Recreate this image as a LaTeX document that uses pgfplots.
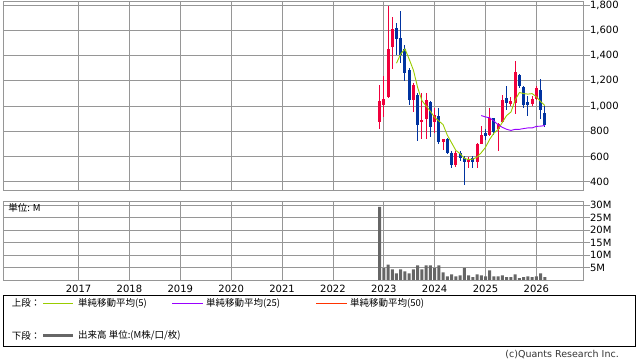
\documentclass[border=0pt]{standalone}
\usepackage{fontspec}
\setmainfont{DejaVu Sans}
\newfontfamily\jp{Noto Sans CJK JP}
\usepackage{pgfplots}
\usepackage{pgfplotstable}
\pgfplotsset{compat=1.18}

\definecolor{upc}{RGB}{240,0,60}
\definecolor{dnc}{RGB}{0,51,160}
\definecolor{ma5}{RGB}{153,204,0}
\definecolor{ma25}{RGB}{153,0,255}
\definecolor{ma50}{RGB}{255,51,0}
\definecolor{gridc}{RGB}{150,150,150}
\definecolor{volc}{RGB}{102,102,102}

% month index: Jan 2017 = 0
\pgfplotstableread{
m o h l c
71 872 1169 815 1043
72 1004 1240 914 1059
73 1069 1792 1060 1450
74 1464 1708 1293 1611
79 1046 1180 951 1169
81 872 1104 741 888
82 893 1104 741 1051
84 872 985 788 925
86 715 740 652 736
89 533 640 520 625
92 552 596 512 578
94 552 710 512 702
95 702 841 696 767
97 767 980 762 901
99 815 867 644 854
100 872 1090 867 1051
102 1017 1069 1000 1038
103 1020 1358 933 1266
107 1012 1077 1000 1056
108 1059 1161 1050 1143
}\upcandles

\pgfplotstableread{
m o h l c
75 1621 1655 1406 1532
76 1542 1753 1340 1406
77 1450 1480 1201 1260
78 1282 1300 1004 1046
80 1090 1100 723 846
83 1035 1040 754 833
85 920 985 696 715
87 736 745 620 631
88 631 640 507 533
90 625 644 565 586
91 586 600 376 552
93 586 604 507 552
96 783 815 730 762
98 901 906 770 793
101 1064 1161 972 1025
104 1248 1256 1140 1156
105 1151 1155 980 1006
106 1030 1077 920 1004
109 1125 1214 893 967
110 946 999 833 846
}\dncandles

\pgfplotstableread{
m v
71 29.2
72 4.7
73 6.1
74 4.2
75 2.6
76 4.2
77 3.4
78 2.6
79 4.2
80 5.8
81 4.2
82 5.8
83 5.8
84 4.7
85 5.8
86 3.0
87 1.4
88 2.2
89 1.4
90 1.8
91 4.7
92 1.8
93 1.1
94 2.2
95 1.8
96 1.4
97 3.8
98 1.4
99 1.4
100 1.8
101 1.1
102 1.1
103 2.2
104 0.7
105 1.1
106 1.4
107 1.1
108 1.4
109 2.6
110 1.1
}\volume

\pgfplotsset{
  chartbase/.style={
    anchor=south west, scale only axis, width=579.7pt,
    xmin=-17.76, xmax=119,
    axis line style={gridc, line width=0.8pt},
    grid=major, grid style={gridc, line width=0.8pt},
    xtick={0,12,...,108},
    xtick style={draw=none},
    ytick pos=right, yticklabel pos=right,
    ytick style={gridc, line width=0.8pt},
    tick align=outside, major tick length=7pt,
    yticklabel style={font=\fontsize{10}{11}\selectfont, anchor=west, xshift=-3.5pt},
    xticklabel style={font=\fontsize{10}{11}\selectfont},
    /pgf/number format/assume math mode=true,
    /pgf/number format/1000 sep={,},
    clip=true,
  },
}

\begin{document}
\begin{tikzpicture}
\useasboundingbox (0pt,0pt) rectangle (638pt,362pt);

% ---------- price panel ----------
\begin{axis}[chartbase, at={(3.3pt,172pt)}, height=189pt,
  ymin=334, ymax=1832, ytick={400,600,...,1800},
  xticklabels={}]
  % wicks
  \addplot[draw=none, mark=none, forget plot,
    error bars/.cd, y dir=both, y explicit, error mark=none,
    error bar style={draw=upc, line width=1pt}]
    table[x=m, y expr={(\thisrow{h}+\thisrow{l})/2}, y error expr={(\thisrow{h}-\thisrow{l})/2}] {\upcandles};
  \addplot[draw=none, mark=none, forget plot,
    error bars/.cd, y dir=both, y explicit, error mark=none,
    error bar style={draw=dnc, line width=1pt}]
    table[x=m, y expr={(\thisrow{h}+\thisrow{l})/2}, y error expr={(\thisrow{h}-\thisrow{l})/2}] {\dncandles};
  % bodies
  \addplot[draw=none, mark=none, forget plot,
    error bars/.cd, y dir=both, y explicit, error mark=none,
    error bar style={draw=upc, line width=3pt}]
    table[x=m, y expr={(\thisrow{o}+\thisrow{c})/2}, y error expr={max(abs(\thisrow{c}-\thisrow{o})/2,4)}] {\upcandles};
  \addplot[draw=none, mark=none, forget plot,
    error bars/.cd, y dir=both, y explicit, error mark=none,
    error bar style={draw=dnc, line width=3pt}]
    table[x=m, y expr={(\thisrow{o}+\thisrow{c})/2}, y error expr={max(abs(\thisrow{c}-\thisrow{o})/2,4)}] {\dncandles};
  % MA5
  \addplot[ma5, line width=0.9pt, mark=none] coordinates {
    (75,1339) (76,1412) (77,1452) (78,1371) (79,1283) (80,1145) (81,1042)
    (82,1000) (83,957) (84,909) (85,881) (86,852) (87,768) (88,708)
    (89,648) (90,622) (91,585) (92,575) (93,579) (94,594) (95,630)
    (96,672) (97,737) (98,785) (99,815) (100,872) (101,925) (102,952)
    (103,1047) (104,1107) (105,1098) (106,1094) (107,1098) (108,1073)
    (109,1035) (110,1003)};
  % MA25
  \addplot[ma25, line width=0.9pt, mark=none] coordinates {
    (95,924) (96,913) (97,906) (98,880) (99,850) (100,830) (101,815)
    (102,806) (103,815) (104,815) (105,821) (106,826) (107,826)
    (108,838) (109,840) (110,845)};
\end{axis}

% ---------- volume panel ----------
\begin{axis}[chartbase, at={(3.3pt,82pt)}, height=78.3pt,
  ymin=0, ymax=31.3, ytick={5,10,...,30},
  yticklabels={5M,10M,15M,20M,25M,30M},
  xticklabels={2017,2018,2019,2020,2021,2022,2023,2024,2025,2026},
  xticklabel style={anchor=center, yshift=-1.7pt}]
  \addplot[ybar, bar width=3pt, fill=volc, draw=none] table[x=m, y=v] {\volume};
\end{axis}
\node[anchor=west, inner sep=0pt, font=\jp\fontsize{9.5}{10}\selectfont] at (8.3pt,153.7pt) {単位: M};

% ---------- legend box ----------
\draw[black, line width=0.8pt] (3.3pt,16pt) rectangle (635pt,66.7pt);
\node[anchor=west, inner sep=0pt, font=\jp\fontsize{9.5}{10}\selectfont] at (11.7pt,58.7pt) {上段：};
\draw[ma5, line width=1pt] (43pt,58.7pt) -- (73pt,58.7pt);
\node[anchor=west, inner sep=0pt, font=\jp\fontsize{9.5}{10}\selectfont] at (78pt,58.7pt) {単純移動平均(5)};
\draw[ma25, line width=1pt] (172pt,58.7pt) -- (203pt,58.7pt);
\node[anchor=west, inner sep=0pt, font=\jp\fontsize{9.5}{10}\selectfont] at (206pt,58.7pt) {単純移動平均(25)};
\draw[ma50, line width=1pt] (316pt,58.7pt) -- (347pt,58.7pt);
\node[anchor=west, inner sep=0pt, font=\jp\fontsize{9.5}{10}\selectfont] at (350pt,58.7pt) {単純移動平均(50)};
\node[anchor=west, inner sep=0pt, font=\jp\fontsize{9.5}{10}\selectfont] at (11.7pt,26.3pt) {下段：};
\draw[volc, line width=3.5pt] (43pt,26.3pt) -- (73pt,26.3pt);
\node[anchor=west, inner sep=0pt, font=\jp\fontsize{9.5}{10}\selectfont] at (78pt,26.3pt) {出来高 単位:(M株/口/枚)};

% copyright
\node[anchor=east, inner sep=0pt, font=\fontsize{9.5}{10}\selectfont, text=black!80] at (619pt,7pt) {(c)Quants Research Inc.};
\end{tikzpicture}
\end{document}
